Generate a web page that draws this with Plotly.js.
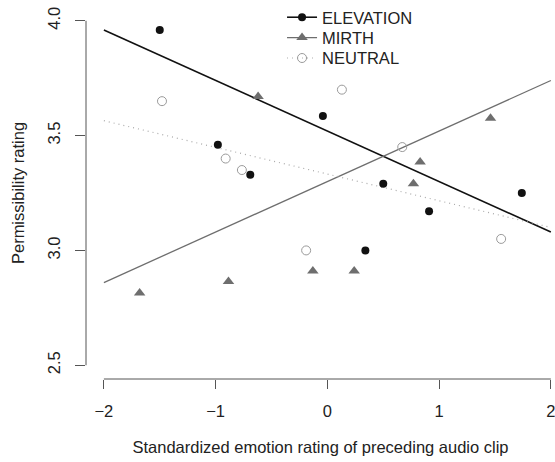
<!DOCTYPE html>
<html>
<head>
<meta charset="utf-8">
<script src="https://cdn.plot.ly/plotly-3.0.1.min.js"></script>
<style>html,body{margin:0;padding:0;background:#fff;}#chart{width:555px;height:462px;}</style>
</head>
<body>
<div id="chart"></div>
<script>
// Data
var elevationX = [-1.50, -0.98, -0.69, -0.04, 0.50, 0.91, 0.34, 1.74];
var elevationY = [3.96, 3.46, 3.33, 3.585, 3.29, 3.17, 3.00, 3.25];
var mirthX = [-1.68, -0.885, -0.13, 0.24, -0.62, 0.83, 0.77, 1.46];
var mirthY = [2.815, 2.865, 2.91, 2.91, 3.67, 3.385, 3.29, 3.575];
var neutralX = [-1.48, -0.91, -0.765, 0.13, 0.67, -0.19, 1.555];
var neutralY = [3.65, 3.40, 3.35, 3.70, 3.45, 3.00, 3.05];
var fitX = [-2, 2];
var fitElevation = [3.96, 3.08];
var fitMirth = [2.86, 3.74];
var fitNeutral = [3.565, 3.10];
var xTicks = [-2, -1, 0, 1, 2];
var yTicks = [2.5, 3.0, 3.5, 4.0];
var yTickText = ['2.5', '3.0', '3.5', '4.0'];
var seriesNames = ['ELEVATION', 'MIRTH', 'NEUTRAL'];

var cBlack = '#111111', cMirth = '#6e6e6e', cNeutral = '#9a9a9a', cDot = '#aaaaaa';
var font = 'Liberation Sans, Arial, Helvetica, sans-serif';
var fs = 16.5;
var txt = '#222222';

var traces = [
  {x: fitX, y: fitElevation, mode: 'lines', line: {color: cBlack, width: 1.6}, showlegend: false, hoverinfo: 'skip'},
  {x: fitX, y: fitMirth, mode: 'lines', line: {color: cMirth, width: 1.3}, showlegend: false, hoverinfo: 'skip'},
  {x: fitX, y: fitNeutral, mode: 'lines', line: {color: cDot, width: 1.2, dash: '1px,4px'}, showlegend: false, hoverinfo: 'skip'},
  {x: elevationX, y: elevationY, mode: 'markers', marker: {symbol: 'circle', size: 8, color: cBlack}, showlegend: false},
  {x: mirthX, y: mirthY, mode: 'markers', marker: {symbol: 'triangle-up', size: 10, color: cMirth}, showlegend: false},
  {x: neutralX, y: neutralY, mode: 'markers', marker: {symbol: 'circle-open', size: 9, color: cNeutral, line: {width: 1}}, showlegend: false},
  // legend entries
  {x: [null], y: [null], name: seriesNames[0], legend: 'legend', mode: 'lines+markers', line: {color: cBlack, width: 1.6}, marker: {symbol: 'circle', size: 8, color: cBlack}},
  {x: [null], y: [null], name: seriesNames[1], legend: 'legend2', mode: 'lines+markers', line: {color: cMirth, width: 1.3}, marker: {symbol: 'triangle-up', size: 10, color: cMirth}},
  {x: [null], y: [null], name: seriesNames[2], legend: 'legend3', mode: 'lines+markers', line: {color: cDot, width: 1.2, dash: '1px,4px'}, marker: {symbol: 'circle-open', size: 9, color: cNeutral, line: {width: 1}}}
];

function leg(y) {
  return {x: 0.418, y: y, xanchor: 'left', yanchor: 'top', bgcolor: 'rgba(0,0,0,0)', font: {size: fs, family: font, color: txt}, borderwidth: 0};
}

var axisColor = '#555555';
var layout = {
  width: 555, height: 462,
  margin: {l: 86, r: 0, t: 5, b: 83},
  paper_bgcolor: '#ffffff', plot_bgcolor: '#ffffff',
  font: {family: font, size: fs, color: txt},
  showlegend: true,
  legend: leg(1.0195),
  legend2: leg(0.9640),
  legend3: leg(0.9092),
  xaxis: {
    range: [-2.16, 2.037], showgrid: false, zeroline: false, showline: false,
    tickvals: xTicks, ticks: 'outside', ticklen: 9, tickwidth: 1, tickcolor: axisColor,
    ticklabelstandoff: 8, ticklabeloverflow: 'allow',
    tickfont: {size: fs, family: font, color: txt},
    title: {text: 'Standardized emotion rating of preceding audio clip', font: {size: fs, family: font, color: txt}, standoff: 22}
  },
  yaxis: {
    range: [2.44, 4.06], showgrid: false, zeroline: false, showline: false,
    tickvals: yTicks, ticktext: yTickText, ticks: 'outside', ticklen: 10, tickwidth: 1, tickcolor: axisColor,
    tickangle: -90, ticklabelstandoff: 8,
    tickfont: {size: fs, family: font, color: txt},
    title: {text: 'Permissibility rating', font: {size: fs, family: font, color: txt}, standoff: 16}
  },
  shapes: [
    {type: 'line', xref: 'x', yref: 'paper', x0: xTicks[0], x1: xTicks[xTicks.length - 1], y0: 0, y1: 0, line: {color: axisColor, width: 1}, layer: 'above'},
    {type: 'line', xref: 'paper', yref: 'y', x0: 0, x1: 0, y0: yTicks[0], y1: yTicks[yTicks.length - 1], line: {color: axisColor, width: 1}, layer: 'above'}
  ]
};

Plotly.newPlot('chart', traces, layout, {displayModeBar: false, staticPlot: true});
</script>
</body>
</html>
